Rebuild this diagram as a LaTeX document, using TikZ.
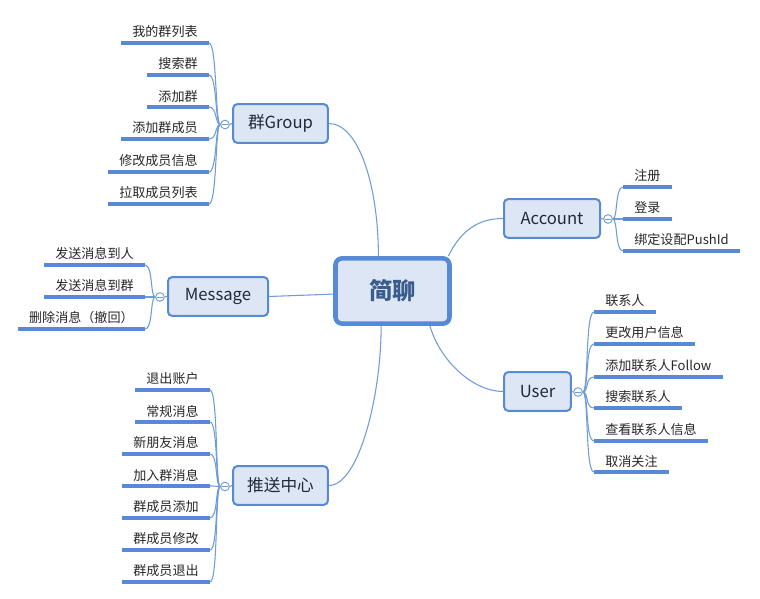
\documentclass[tikz,border=0pt]{standalone}
\usepackage{fontspec}
\setmainfont{Noto Sans CJK SC}
\usetikzlibrary{calc,
	positioning}
\definecolor{nodeblue}{HTML}{568AD4}
\definecolor{nodefill}{HTML}{DCE6F4}
\definecolor{linkblue}{HTML}{6E9CD8}
\definecolor{roottext}{HTML}{3A5C8C}
\definecolor{topictext}{HTML}{1E2A3A}
\tikzset{
	root/.style={draw=nodeblue, line width=3.4pt, fill=nodefill, rounded corners=5pt, minimum width=85.5pt, minimum height=49pt, text=roottext, font=\fontsize{17.5}{20}\selectfont\bfseries},
	topic/.style={draw=nodeblue, line width=1.5pt, fill=nodefill, rounded corners=3pt, minimum height=29pt, text=topictext, font=\fontsize{12.5}{15}\selectfont},
	leaf/.style={inner xsep=8.3pt, inner ysep=3.5pt, text=black!85, font=\fontsize{9.8}{11}\selectfont},
	uline/.style={draw=nodeblue, line width=2.3pt},
	link/.style={draw=linkblue, line width=0.8pt},
	fold/.style={circle, draw=linkblue, fill=white, line width=0.7pt, minimum size=6.5pt, inner sep=0pt,
		path picture={\draw[linkblue, line width=0.6pt] ($(path picture bounding box.center)+(-2.2pt,0)$) -- ++(4.4pt,0);}},
}

\begin{document}
\begin{tikzpicture}[x=0.75pt, y=-0.75pt]
	\useasboundingbox (0,0) rectangle (760,599);
	% centre and main topics
	\node[root] (root) at (392.5,291) {简聊};
	\node[topic, minimum width=71pt] (group) at (280.5,123.5) {群Group};
	\node[topic, minimum width=75pt] (msg) at (218,296.5) {Message};
	\node[topic, minimum width=71pt] (push) at (280.5,485.5) {推送中心};
	\node[topic, minimum width=72pt] (account) at (552,218.5) {Account};
	\node[topic, minimum width=50pt] (user) at (537.5,391.5) {User};
	\draw[link] (root.112) .. controls ($(root.112)+(0,-70)$) and ($(group.east)+(30,0)$) .. (group.east);
	\draw[link] (root.-108) .. controls ($(root.-108)+(0,70)$) and ($(push.east)+(30,0)$) .. (push.east);
	\draw[link] (root.183) -- (msg.east);
	\draw[link] (root.32) .. controls ($(root.32)+(12,-25)$) and ($(account.west)+(-25,0)$) .. (account.west);
	\draw[link] (root.-43) .. controls ($(root.-43)+(10,35)$) and ($(user.west)+(-30,0)$) .. (user.west);
	% fold markers
	\node[fold] (gfold) at (225,124.5) {};
	\node[fold] (mfold) at (160,297) {};
	\node[fold] (pfold) at (225,486.5) {};
	\node[fold] (afold) at (608,219) {};
	\node[fold] (ufold) at (578,392) {};
	\draw[link] (group.west) -- (gfold.east);
	\draw[link] (msg.west) -- (mfold.east);
	\draw[link] (push.west) -- (pfold.east);
	\draw[link] (account.east) -- (afold.west);
	\draw[link] (user.east) -- (ufold.west);
	% leaves on the left
	\foreach \y/\t [count=\i] in {43/我的群列表, 75/搜索群, 107/添加群, 139/添加群成员, 172/修改成员信息, 204/拉取成员列表} {
		\node[leaf, anchor=south east] (g\i) at (209,\y) {\t};
		\draw[uline] (g\i.south west) -- (g\i.south east);
		\draw[link] (gfold.west) .. controls ($(gfold.west)+(-5,0)$) and ($(g\i.south east)+(8,0)$) .. (g\i.south east);
	}
	\foreach \y/\t [count=\i] in {265/发送消息到人, 297/发送消息到群, 329/删除消息（撤回）} {
		\node[leaf, anchor=south east] (m\i) at (145,\y) {\t};
		\draw[uline] (m\i.south west) -- (m\i.south east);
		\draw[link] (mfold.west) .. controls ($(mfold.west)+(-5,0)$) and ($(m\i.south east)+(8,0)$) .. (m\i.south east);
	}
	\foreach \y/\t [count=\i] in {390/退出账户, 422/常规消息, 454/新朋友消息, 486/加入群消息, 518/群成员添加, 550/群成员修改, 582/群成员退出} {
		\node[leaf, anchor=south east] (p\i) at (210,\y) {\t};
		\draw[uline] (p\i.south west) -- (p\i.south east);
		\draw[link] (pfold.west) .. controls ($(pfold.west)+(-5,0)$) and ($(p\i.south east)+(8,0)$) .. (p\i.south east);
	}
	% leaves on the right
	\foreach \y/\t [count=\i] in {187/注册, 219/登录, 251/绑定设配PushId} {
		\node[leaf, anchor=south west] (a\i) at (623,\y) {\t};
		\draw[uline] (a\i.south west) -- (a\i.south east);
		\draw[link] (afold.east) .. controls ($(afold.east)+(5,0)$) and ($(a\i.south west)+(-8,0)$) .. (a\i.south west);
	}
	\foreach \y/\t [count=\i] in {312/联系人, 344/更改用户信息, 377/添加联系人Follow, 408/搜索联系人, 441/查看联系人信息, 472/取消关注} {
		\node[leaf, anchor=south west] (u\i) at (594,\y) {\t};
		\draw[uline] (u\i.south west) -- (u\i.south east);
		\draw[link] (ufold.east) .. controls ($(ufold.east)+(6,0)$) and ($(u\i.south west)+(-9,0)$) .. (u\i.south west);
	}
\end{tikzpicture}
\end{document}
